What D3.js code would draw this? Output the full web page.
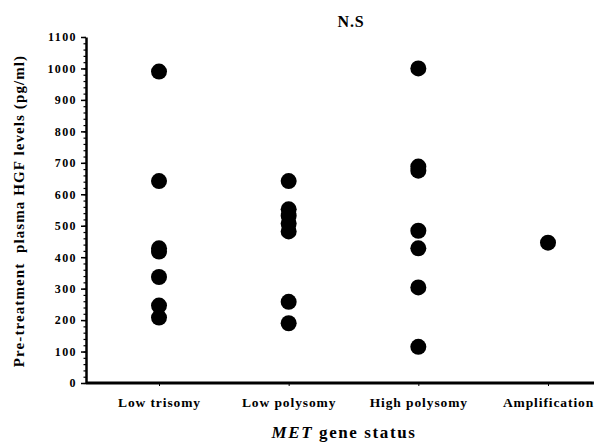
<!DOCTYPE html>
<html>
<head>
<meta charset="utf-8">
<script src="https://cdn.jsdelivr.net/npm/d3@7"></script>
<style>
  body { margin: 0; background: #fff; }
  svg text { font-family: "Liberation Serif", "DejaVu Serif", serif; font-weight: bold; fill: #000; white-space: pre; }
</style>
</head>
<body>
<div id="chart"></div>
<script>
// categories and values
const categories = ["Low trisomy", "Low polysomy", "High polysomy", "Amplification"];
const lowTrisomy = [990, 642, 428, 418, 337, 246, 208];
const lowPolysomy = [642, 552, 532, 507, 482, 258, 190];
const highPolysomy = [1000, 688, 675, 484, 428, 304, 115];
const amplification = [446];
const yTicks = [0, 100, 200, 300, 400, 500, 600, 700, 800, 900, 1000, 1100];

const series = [lowTrisomy, lowPolysomy, highPolysomy, amplification];
const points = [];
series.forEach((vals, i) => vals.forEach(v => points.push({ cat: categories[i], value: v })));

const width = 594, height = 445;
const svg = d3.select("#chart").append("svg").attr("width", width).attr("height", height);

const x = d3.scalePoint().domain(categories).range([86, 621]).padding(0.563);
const y = d3.scaleLinear().domain([0, 1100]).range([383, 37]);

// minor ticks on y axis
svg.append("g")
    .attr("transform", "translate(86,0)")
    .call(d3.axisLeft(y).tickValues(d3.range(0, 1101, 20)).tickSize(2.5).tickFormat(""))
    .call(g => g.select(".domain").remove())
    .selectAll("line").attr("stroke-width", 1.2);

// y axis
svg.append("g")
    .attr("transform", "translate(86,0)")
    .call(d3.axisLeft(y).tickValues(yTicks).tickSize(5).tickSizeOuter(0).tickPadding(4).tickFormat(d3.format("d")))
    .call(g => g.select(".domain").attr("stroke-width", 2.5))
    .call(g => g.selectAll(".tick line").attr("stroke-width", 1.5))
    .selectAll(".tick text")
    .style("font-size", "12px")
    .style("letter-spacing", "1.4px");

// x axis
svg.append("g")
    .attr("transform", "translate(0,383)")
    .call(d3.axisBottom(x).tickSize(3).tickSizeOuter(0).tickPadding(11))
    .call(g => g.select(".domain").attr("d", "M86,0H594").attr("stroke-width", 3))
    .selectAll(".tick text")
    .style("font-size", "13.5px")
    .style("letter-spacing", "0.9px");

// dots
svg.append("g")
    .selectAll("circle")
    .data(points)
    .join("circle")
    .attr("cx", d => x(d.cat))
    .attr("cy", d => y(d.value))
    .attr("r", 8)
    .attr("fill", "#000");

// title
svg.append("text")
    .attr("x", 351).attr("y", 27)
    .attr("text-anchor", "middle")
    .style("font-size", "16px")
    .style("letter-spacing", "0.8px")
    .text("N.S");

// y label
svg.append("text")
    .attr("transform", "translate(24,211) rotate(-90)")
    .attr("text-anchor", "middle")
    .style("font-size", "15px")
    .style("letter-spacing", "1.1px")
    .text("Pre-treatment  plasma HGF levels (pg/ml)");

// x label
const xl = svg.append("text")
    .attr("x", 344).attr("y", 438)
    .attr("text-anchor", "middle")
    .style("font-size", "17px")
    .style("letter-spacing", "1.6px");
xl.append("tspan").style("font-style", "italic").text("MET");
xl.append("tspan").text(" gene status");
</script>
</body>
</html>
